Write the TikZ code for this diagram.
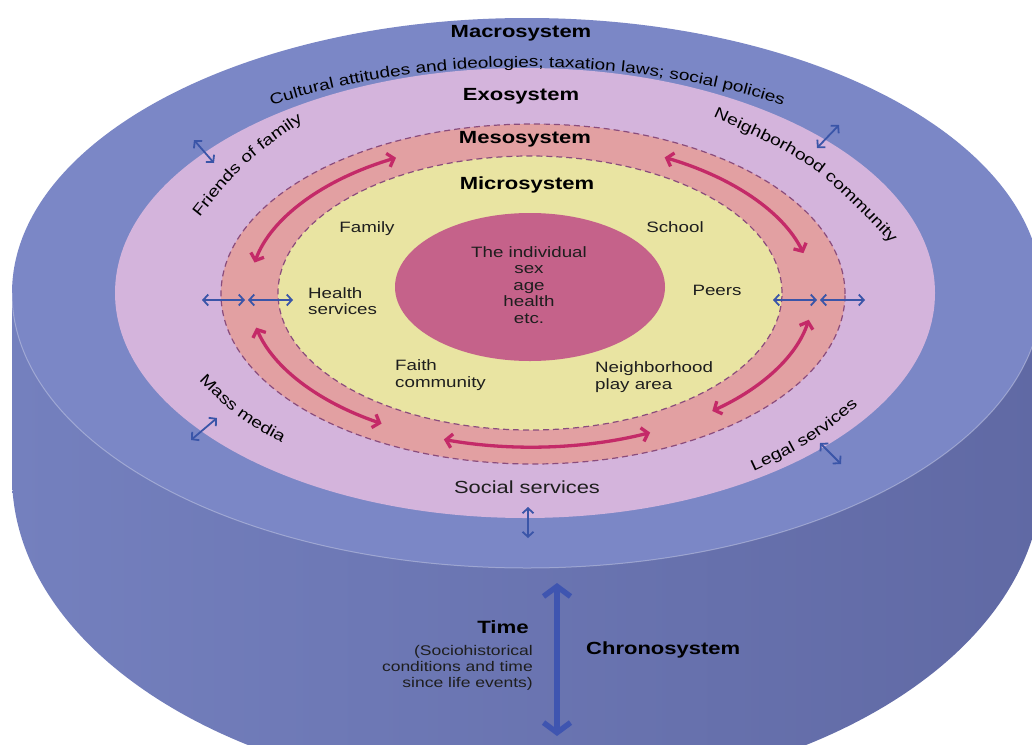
\documentclass[tikz,border=0pt]{standalone}
\usepackage{fontspec}
\setmainfont{Liberation Sans}[FakeStretch=1.25]
\usetikzlibrary{arrows.meta,calc,decorations.text}

% palette
\definecolor{macroTop}{HTML}{7B87C6}
\definecolor{sideL}{HTML}{7480BE}
\definecolor{sideM}{HTML}{8993CF}
\definecolor{sideR}{HTML}{6069A4}
\definecolor{exoC}{HTML}{D4B4DC}
\definecolor{mesoC}{HTML}{E2A0A2}
\definecolor{microC}{HTML}{E9E4A2}
\definecolor{indivC}{HTML}{C5628A}
\definecolor{dashC}{HTML}{8A4C7C}
\definecolor{arrM}{HTML}{C42A68}
\definecolor{arrB}{HTML}{3A55A8}
\definecolor{arrBig}{HTML}{3F55B0}
\definecolor{txt}{HTML}{1E1E1E}

\newcommand\lblfont{\fontsize{15}{16.5}\selectfont}
\newcommand\ringfont{\fontsize{15.5}{18}\selectfont}
\newcommand\culfont{\fontsize{15.2}{18}\selectfont}
\newcommand\ttlfont{\bfseries\fontsize{17.6}{20}\selectfont}

\begin{document}
\begin{tikzpicture}[x=1pt,y=1pt,
  lbl/.style={font=\lblfont, text=txt, inner sep=0pt},
  ttl/.style={font=\ttlfont, text=black, inner sep=0pt},
  bluearr/.style={draw=arrB, line width=1.8pt,
    {Straight Barb[length=5pt,width=11pt]}-{Straight Barb[length=5pt,width=11pt]}},
  magarr/.style={draw=arrM, line width=3.3pt,
    {Straight Barb[length=6pt,width=14pt]}-{Straight Barb[length=6pt,width=14pt]}},
  bigarr/.style={draw=arrBig, line width=5.5pt,
    {Straight Barb[length=10pt,width=27pt]}-{Straight Barb[length=10pt,width=27pt]}},
  mesoborder/.style={draw=dashC, line width=1.2pt, dash pattern=on 6pt off 4pt},
  arctext/.style={decorate, decoration={text along path, text align=center}},
]
\useasboundingbox (0,0) rectangle (1032,-744);
\fill[white] (0,0) rectangle (1032,-744);
\clip (0,0) rectangle (1032,-744);

% centres of the layers
\coordinate (topc) at (527,-293);
\coordinate (exoc) at (525,-293);
\coordinate (mesoc) at (533,-294);
\coordinate (microc) at (530,-293);
\coordinate (indc) at (530,-287);
\coordinate (ringc) at (531,-293);

% cylinder wall
\coordinate (wallTL) at (12,-293);
\coordinate (wallBL) at (12,-476);
\coordinate (wallTR) at (1042,-293);
\shade[left color=sideL, middle color=sideM, right color=sideR]
  (wallTL) -- (wallBL) arc[start angle=180, end angle=360, x radius=515, y radius=320]
  -- (wallTR) -- cycle;

% top face
\fill[macroTop] (topc) ellipse[x radius=515, y radius=275];
\draw[white, opacity=0.3, line width=1pt] (wallTL)
  arc[start angle=180, end angle=360, x radius=515, y radius=275];

% nested systems
\fill[exoC] (exoc) ellipse[x radius=410, y radius=225];
\fill[mesoC] (mesoc) ellipse[x radius=312, y radius=170];
\draw[mesoborder] (mesoc) ellipse[x radius=312, y radius=170];
\fill[microC] (microc) ellipse[x radius=252, y radius=137];
\draw[mesoborder] (microc) ellipse[x radius=252, y radius=137];
\fill[indivC] (indc) ellipse[x radius=135, y radius=74];

% titles
\node[ttl] (macro) at (521,-33) {Macrosystem};
\node[ttl] (exo) at (521,-96) {Exosystem};
\node[ttl] (meso) at (525,-139) {Mesosystem};
\node[ttl] (micro) at (527,-185) {Microsystem};

% macrosystem text along the rim
\coordinate (culS) at ($(topc)+(125:459 and 226)$);
\path[arctext, decoration={text={|\culfont|Cultural attitudes and ideologies; taxation laws; social policies}}]
  (culS) arc[start angle=125, end angle=55, x radius=459, y radius=226];

% exosystem texts along the ring
\coordinate (friS) at (192,-227); \coordinate (friE) at (313,-114);
\path[arctext, decoration={text={|\ringfont|Friends of family}}]
  (friS) .. controls (243,-163) .. (friE);
\coordinate (nbcS) at (700,-111); \coordinate (nbcE) at (901,-254);
\path[arctext, decoration={text={|\ringfont|Neighborhood community}}]
  (nbcS) .. controls (815,-163) .. (nbcE);
\coordinate (massS) at (190,-371); \coordinate (massE) at (293,-449);
\path[arctext, decoration={text={|\ringfont|Mass media}}]
  (massS) .. controls (236,-418) .. (massE);
\coordinate (legS) at (741,-477); \coordinate (legE) at (869,-397);
\path[arctext, decoration={text={|\ringfont|Legal services}}]
  (legS) .. controls (810,-445) .. (legE);
\node[lbl, font=\fontsize{17.5}{20}\selectfont] (social) at (527,-487) {Social services};

% microsystem settings
\node[lbl] (family) at (367,-229) {Family};
\node[lbl] (school) at (675,-227) {School};
\node[lbl, align=left, anchor=west] (health) at (308,-301) {Health\\services};
\node[lbl] (peers) at (717,-290) {Peers};
\node[lbl, align=left, anchor=west] (faith) at (395,-375) {Faith\\community};
\node[lbl, align=left, anchor=west] (play) at (595,-377) {Neighborhood\\play area};
\node[lbl, align=center] (indiv) at (529,-285) {The individual\\sex\\age\\health\\etc.};

% mesosystem links
\coordinate (m1) at ($(ringc)+(118.6:282 and 154)$);
\draw[magarr] (m1) arc[start angle=118.6, end angle=168.6, x radius=282, y radius=154];
\coordinate (m2) at ($(ringc)+(61.7:282 and 154)$);
\draw[magarr] (m2) arc[start angle=61.7, end angle=15, x radius=282, y radius=154];
\coordinate (m3) at ($(ringc)+(193:282 and 154)$);
\draw[magarr] (m3) arc[start angle=193, end angle=238, x radius=282, y radius=154];
\coordinate (m4) at ($(ringc)+(252:282 and 154)$);
\draw[magarr] (m4) arc[start angle=252, end angle=295, x radius=282, y radius=154];
\coordinate (m5) at ($(ringc)+(350:282 and 154)$);
\draw[magarr] (m5) arc[start angle=350, end angle=310, x radius=282, y radius=154];

% interactions between layers
\coordinate (a1s) at (194,-140); \coordinate (a1e) at (214,-163);
\coordinate (a2s) at (839,-125); \coordinate (a2e) at (817,-148);
\coordinate (a3s) at (202,-300); \coordinate (a3e) at (245,-300);
\coordinate (a4s) at (248,-300); \coordinate (a4e) at (293,-300);
\coordinate (a5s) at (773,-300); \coordinate (a5e) at (817,-300);
\coordinate (a6s) at (820,-300); \coordinate (a6e) at (865,-300);
\coordinate (a7s) at (191,-440); \coordinate (a7e) at (217,-418);
\coordinate (a8s) at (820,-443); \coordinate (a8e) at (841,-464);
\coordinate (a9s) at (528,-507); \coordinate (a9e) at (528,-538);
\foreach \i in {1,...,9} \draw[bluearr] (a\i s) -- (a\i e);

% chronosystem
\coordinate (timeT) at (557,-583);
\coordinate (timeB) at (557,-736);
\draw[bigarr] (timeT) -- (timeB);
\node[ttl, anchor=east, font=\bfseries\fontsize{17.8}{20}\selectfont] (time) at (529,-627) {Time};
\node[lbl, align=right, anchor=east, font=\fontsize{14}{16.3}\selectfont] (timenote) at (533,-668)
  {(Sociohistorical\\conditions and time\\since life events)};
\node[ttl, anchor=west] (chrono) at (586,-650) {Chronosystem};
\end{tikzpicture}
\end{document}
